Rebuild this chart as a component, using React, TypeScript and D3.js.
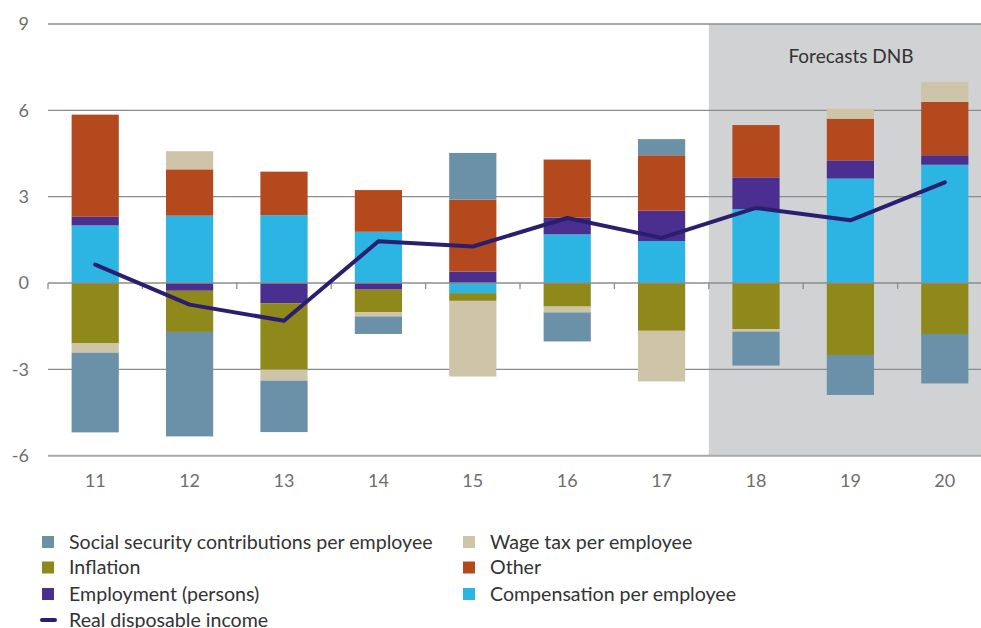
import React from 'react';
import * as d3 from 'd3';

// years (20xx)
const categories = ['11', '12', '13', '14', '15', '16', '17', '18', '19', '20'];
const forecastFrom = '18';

// contributions to growth of real disposable income, % points
const compensation = [2.0, 2.34, 2.36, 1.78, -0.35, 1.69, 1.46, 2.57, 3.63, 4.11];
const employment = [0.3, -0.27, -0.7, -0.23, 0.4, 0.58, 1.05, 1.1, 0.63, 0.33];
const inflation = [-2.1, -1.43, -2.31, -0.79, -0.27, -0.82, -1.66, -1.6, -2.5, -1.77];
const other = [3.55, 1.61, 1.51, 1.45, 2.5, 2.02, 1.93, 1.82, 1.45, 1.85];
const wageTax = [-0.32, 0.63, -0.38, -0.14, -2.63, -0.2, -1.76, -0.09, 0.35, 0.7];
const socialSecurity = [-2.77, -3.63, -1.79, -0.61, 1.62, -1.01, 0.56, -1.18, -1.39, -1.72];
const realIncome = [0.64, -0.75, -1.31, 1.45, 1.27, 2.26, 1.57, 2.61, 2.18, 3.5];

const yTicks = [9, 6, 3, 0, -3, -6];

const seriesKeys = ['compensation', 'employment', 'inflation', 'other', 'wageTax', 'socialSecurity'];
const seriesValues: Record<string, number[]> = {
  compensation, employment, inflation, other, wageTax, socialSecurity,
};
const colors: Record<string, string> = {
  socialSecurity: '#6b91a8',
  wageTax: '#cec4a8',
  inflation: '#8f881a',
  other: '#b5491e',
  employment: '#4b2f90',
  compensation: '#2cb5e3',
};
const lineColor = '#2a1e6e';

const legendItems = [
  { key: 'socialSecurity', label: 'Social security contributions per employee', col: 0, row: 0 },
  { key: 'wageTax', label: 'Wage tax per employee', col: 1, row: 0 },
  { key: 'inflation', label: 'Inflation', col: 0, row: 1 },
  { key: 'other', label: 'Other', col: 1, row: 1 },
  { key: 'employment', label: 'Employment (persons)', col: 0, row: 2 },
  { key: 'compensation', label: 'Compensation per employee', col: 1, row: 2 },
];

const W = 981;
const H = 628;
const font = 'Lato, "Open Sans", sans-serif';

export default function App() {
  const x = d3.scaleBand().domain(categories).range([48, 992]).paddingInner(0.5).paddingOuter(0.25);
  const y = d3.scaleLinear().domain([-6, 9]).range([455.7, 24]);

  const table = categories.map((c, i) => {
    const row: any = { cat: c };
    seriesKeys.forEach(k => { row[k] = seriesValues[k][i]; });
    return row;
  });
  const stacked = d3.stack<any>().keys(seriesKeys).offset(d3.stackOffsetDiverging)(table);

  const line = d3.line<number>()
    .x((_, i) => (x(categories[i]) as number) + x.bandwidth() / 2)
    .y(d => y(d));

  const step = x.step();
  const bandStart = (c: string) => (x(c) as number) - step * 0.25;
  const fx = bandStart(forecastFrom);

  const legCol = [42, 463];
  const legRow = [542, 567.5, 594];

  return (
    <svg width={W} height={H} style={{ position: 'absolute', left: 0, top: 0, fontFamily: font }}>
      <rect x={fx} y={y(9)} width={1000 - fx} height={y(-6) - y(9)} fill="#d1d2d4" />
      <text x={851} y={63} textAnchor="middle" fontSize={19} fill="#333">Forecasts DNB</text>

      {yTicks.filter(t => t !== 0 && t !== -6).map(t => (
        <line key={t} x1={48} x2={W} y1={y(t)} y2={y(t)} stroke="#8c8c8c" strokeWidth={1.3} />
      ))}
      <line x1={48} x2={W} y1={y(-6)} y2={y(-6)} stroke="#aaaaaa" strokeWidth={2} />
      {yTicks.map(t => (
        <text key={t} x={29} y={y(t)} dy="0.35em" textAnchor="end" fontSize={18} fill="#6e6e6e">{t}</text>
      ))}

      {stacked.map(s => (
        <g key={s.key} fill={colors[s.key]}>
          {s.map((d, i) => (
            <rect
              key={i}
              x={x(categories[i])}
              y={y(Math.max(d[0], d[1]))}
              width={x.bandwidth()}
              height={Math.abs(y(d[0]) - y(d[1]))}
            />
          ))}
        </g>
      ))}

      <line x1={48} x2={W} y1={y(0)} y2={y(0)} stroke="#8c8c8c" strokeWidth={1.3} />
      {categories.map(c => (
        <line key={c} x1={bandStart(c)} x2={bandStart(c)} y1={y(0)} y2={y(0) + 6} stroke="#8c8c8c" strokeWidth={1.3} />
      ))}

      <path d={line(realIncome) || ''} fill="none" stroke={lineColor} strokeWidth={4} strokeLinejoin="round" strokeLinecap="round" />

      {categories.map(c => (
        <text key={c} x={(x(c) as number) + x.bandwidth() / 2} y={481} dy="0.35em" textAnchor="middle" fontSize={18} fill="#6e6e6e">{c}</text>
      ))}

      {legendItems.map(it => (
        <g key={it.key} transform={`translate(${legCol[it.col]},${legRow[it.row]})`}>
          <rect x={0} y={-6} width={12} height={12} fill={colors[it.key]} />
          <text x={27} y={0} dy="0.35em" fontSize={19.6} fill="#333">{it.label}</text>
        </g>
      ))}
      <g transform={`translate(${legCol[0]},620)`}>
        <line x1={0} x2={13} y1={0} y2={0} stroke={lineColor} strokeWidth={4} strokeLinecap="round" />
        <text x={27} y={0} dy="0.35em" fontSize={19.6} fill="#333">Real disposable income</text>
      </g>
    </svg>
  );
}
